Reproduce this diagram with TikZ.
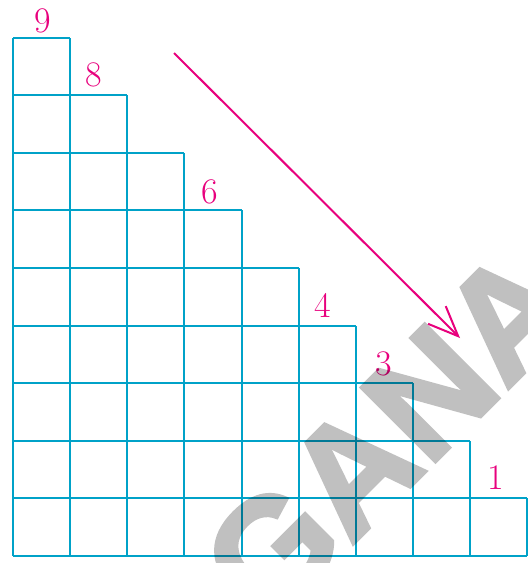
\documentclass[tikz,border=0pt]{standalone}
\usepackage{fontspec}
\newfontfamily\wmfont{Liberation Sans Bold}[FakeBold=2.5]
\usetikzlibrary{arrows.meta}
\definecolor{gridc}{RGB}{0,162,200}
\definecolor{magc}{RGB}{232,0,125}
\tikzset{
  gridline/.style={draw=gridc, line width=2pt, line cap=square},
  numlabel/.style={text=magc, font=\fontsize{36}{36}\selectfont, anchor=base, inner sep=0pt},
  pointer/.style={draw=magc, line width=2pt, -{Straight Barb[length=30pt,width=25pt,line width=2pt]}},
  watermark/.style={text=black, font=\wmfont\fontsize{152}{152}\selectfont, rotate=45, inner sep=0pt, anchor=base west}
}
\begin{document}
\begin{tikzpicture}[x=1pt,y=-1pt]
\useasboundingbox (0,0) rectangle (528,563);
\clip (0,0) rectangle (528,563);
\fill[white] (0,0) rectangle (528,563);
\def\sx{57.15}\def\sy{57.6}
% horizontal lines, level j from the bottom
\draw[gridline] (13,556) -- ({13+9*\sx},556);
\foreach \j in {1,...,9}{
  \draw[gridline] (13,{556-\j*\sy}) -- ({13+(10-\j)*\sx},{556-\j*\sy});
}
% vertical lines, index k from the left
\draw[gridline] (13,556) -- (13,{556-9*\sy});
\foreach \k in {1,...,9}{
  \draw[gridline] ({13+\k*\sx},556) -- ({13+\k*\sx},{556-(10-\k)*\sy});
}
\node[numlabel] (l9) at (43,32) {9};
\node[numlabel] (l8) at (94,86) {8};
\node[numlabel] (l6) at (210,203) {6};
\node[numlabel] (l4) at (323,317) {4};
\node[numlabel] (l3) at (384,375) {3};
\node[numlabel] (l1) at (496,489) {1};
\coordinate (as) at (174,53);
\coordinate (ae) at (460,338);
\draw[pointer] (as) -- (ae);
\begin{scope}[transparency group, opacity=0.247]
\node[watermark] (wm) at (267,630) {GANA};
\end{scope}
\end{tikzpicture}
\end{document}
